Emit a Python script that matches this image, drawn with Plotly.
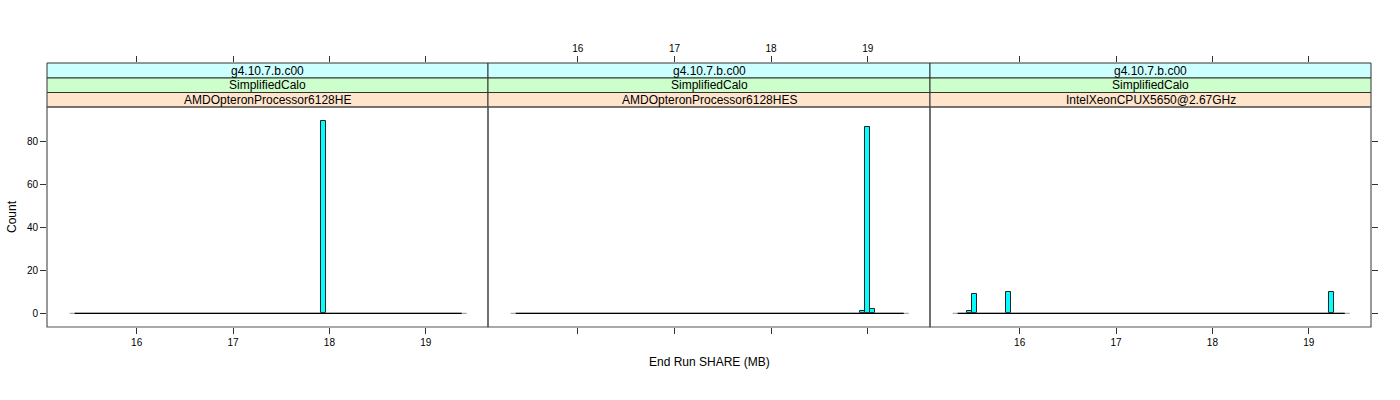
import plotly.graph_objects as go

# ---- data ----
panel_names = ["AMDOpteronProcessor6128HE", "AMDOpteronProcessor6128HES", "IntelXeonCPUX5650@2.67GHz"]
strip_top = "g4.10.7.b.c00"
strip_mid = "SimplifiedCalo"
hist_lo, hist_hi = 15.305, 19.425
bin_width = 0.052
bar_centers = [[17.943], [18.944, 18.993, 19.045], [15.478, 15.531, 15.884, 19.236]]
bar_counts = [[90], [1, 87, 2], [1, 9, 10, 10]]
x_ticks = [16, 17, 18, 19]
y_ticks = [0, 20, 40, 60, 80]
x_range = [15.07, 19.645]
y_range = [-6.4, 96.3]
x_title = "End Run SHARE (MB)"
y_title = "Count"

# ---- layout geometry (pixels -> paper) ----
W, H = 1400, 400
px_edges = [47, 488, 930, 1371]
plot_top, plot_bot = 107, 327
strip_edges = [63, 78, 92.5, 107]

def fx(p):
    return p / W

def fy(p):
    return 1 - p / H

FONT = "Liberation Sans, Arial, sans-serif"
border = "#555555"

fig = go.Figure()
layout = dict(
    width=W, height=H, margin=dict(l=0, r=0, t=0, b=0),
    paper_bgcolor="white", plot_bgcolor="white", showlegend=False,
    font=dict(family=FONT, size=10, color="black"),
)

shapes = []
annotations = []
for i in range(3):
    n = i + 1
    sfx = "" if n == 1 else str(n)
    dom = [fx(px_edges[i]), fx(px_edges[i + 1])]
    # main x axis (bottom)
    layout["xaxis" + sfx] = dict(
        domain=dom, range=x_range, anchor="y" + sfx, side="bottom",
        tickvals=x_ticks, ticks="outside", ticklen=6, tickcolor="#333333",
        showticklabels=(n != 2), tickfont=dict(size=10),
        showgrid=False, zeroline=False, showline=False, fixedrange=True,
    )
    layout["yaxis" + sfx] = dict(
        domain=[fy(plot_bot), fy(plot_top)], range=y_range, anchor="x" + sfx,
        side="right" if n == 3 else "left",
        tickvals=y_ticks, ticks="outside" if n != 2 else "", ticklen=6,
        tickcolor="#333333", showticklabels=(n == 1), tickfont=dict(size=10),
        showgrid=False, zeroline=False, showline=False, fixedrange=True,
    )
    # top axis above strips
    t = str(n + 3)
    layout["xaxis" + t] = dict(
        domain=dom, range=x_range, anchor="y" + t, side="top",
        tickvals=x_ticks, ticks="outside", ticklen=6, tickcolor="#333333",
        showticklabels=(n == 2), tickfont=dict(size=10),
        showgrid=False, zeroline=False, showline=False, fixedrange=True,
    )
    layout["yaxis" + t] = dict(
        domain=[fy(strip_edges[-1]), fy(strip_edges[0])], range=[0, 1],
        anchor="x" + t, visible=False, fixedrange=True,
    )
    fig.add_trace(go.Scatter(x=[], y=[], xaxis="x" + t, yaxis="y" + t, hoverinfo="skip"))

    # baseline (zero-count bins)
    fig.add_trace(go.Scatter(
        x=[hist_lo, hist_hi], y=[0, 0], mode="lines",
        line=dict(color="#aaaaaa", width=1.2), xaxis="x" + sfx, yaxis="y" + sfx, hoverinfo="skip"))
    fig.add_trace(go.Scatter(
        x=[hist_lo + bin_width, hist_hi - bin_width], y=[0, 0], mode="lines",
        line=dict(color="black", width=1.2), xaxis="x" + sfx, yaxis="y" + sfx, hoverinfo="skip"))
    # bars
    fig.add_trace(go.Bar(
        x=bar_centers[i], y=bar_counts[i], width=[bin_width] * len(bar_centers[i]),
        marker=dict(color="#00FFFF", line=dict(color="#222222", width=1)),
        xaxis="x" + sfx, yaxis="y" + sfx))

    # panel border
    shapes.append(dict(type="rect", xref="paper", yref="paper",
                       x0=dom[0], x1=dom[1], y0=fy(plot_bot), y1=fy(plot_top),
                       line=dict(color=border, width=1.2), fillcolor="rgba(0,0,0,0)", layer="above"))
    # strips
    strip_cols = ["#CCFFFF", "#CCFFCC", "#FFE5CC"]
    strip_txt = [strip_top, strip_mid, panel_names[i]]
    for k in range(3):
        shapes.append(dict(type="rect", xref="paper", yref="paper",
                           x0=dom[0], x1=dom[1], y0=fy(strip_edges[k + 1]), y1=fy(strip_edges[k]),
                           line=dict(color="#333333", width=1), fillcolor=strip_cols[k], layer="below"))
        annotations.append(dict(xref="paper", yref="paper",
                                x=(dom[0] + dom[1]) / 2,
                                y=fy((strip_edges[k] + strip_edges[k + 1]) / 2),
                                text=strip_txt[k], showarrow=False,
                                font=dict(size=12, family=FONT, color="black"),
                                xanchor="center", yanchor="middle"))

annotations.append(dict(xref="paper", yref="paper", x=fx(709), y=fy(362), text=x_title,
                        showarrow=False, font=dict(size=12, family=FONT), xanchor="center", yanchor="middle"))
annotations.append(dict(xref="paper", yref="paper", x=fx(12), y=fy(217), text=y_title, textangle=-90,
                        showarrow=False, font=dict(size=12, family=FONT), xanchor="center", yanchor="middle"))

layout["shapes"] = shapes
layout["annotations"] = annotations
layout["bargap"] = 0
fig.update_layout(**layout)
fig.write_html("out.html")
